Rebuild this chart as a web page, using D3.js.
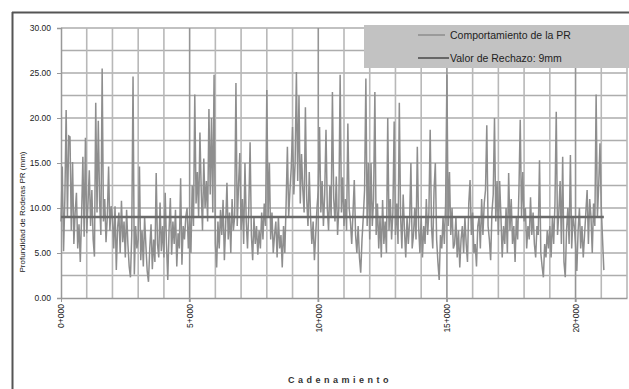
<!DOCTYPE html>
<html><head><meta charset="utf-8">
<script src="https://cdn.jsdelivr.net/npm/d3@7"></script>
<style>body{margin:0;background:#fff}svg{display:block}text{font-family:Arial,"Liberation Sans",sans-serif}</style>
</head><body><svg id="c" width="629" height="389"></svg>
<script>
// chainage step (m) between readings
const step = 50;
// PR values (mm), one per 50 m reading, grouped by km
const prValues = [
  8.5,14.6,5.2,11.0,20.9,9.0,18.0,17.9,7.5,15.1,6.0,9.5,11.7,5.5,8.2,4.0,9.0,15.7,6.8,17.8,
  7.2,10.5,14.2,8.0,12.0,6.5,4.6,21.7,9.5,19.7,10.8,7.0,25.5,8.5,11.0,6.2,9.0,14.6,7.5,10.2,
  8.8,5.5,10.2,3.1,7.8,9.5,5.0,10.8,6.2,8.5,4.5,9.8,6.0,3.5,2.3,7.0,24.6,2.6,8.0,5.5,
  6.5,14.6,4.2,7.5,3.5,9.0,5.8,3.0,1.8,5.5,8.2,3.2,6.5,4.0,13.9,6.0,4.5,10.6,5.2,8.0,
  4.5,11.7,6.0,2.0,7.5,11.1,4.8,8.5,6.0,9.8,3.5,7.2,5.5,13.3,3.7,8.0,6.5,9.0,10.0,5.5,
  9.0,5.0,12.5,8.0,22.6,10.5,14.0,9.0,18.4,12.0,7.5,15.5,10.0,13.0,8.5,21.0,11.5,20.0,9.5,24.8,
  6.0,3.4,8.5,5.5,9.8,7.0,10.9,4.2,8.0,12.8,6.5,9.5,5.0,11.0,7.5,9.0,23.9,8.0,12.5,16.1,
  7.5,11.0,6.0,15.0,8.5,5.5,10.0,17.3,7.0,4.2,9.0,6.0,8.0,4.8,7.5,5.5,9.5,6.5,10.5,8.0,
  23.1,9.0,15.0,6.5,9.5,5.0,7.0,8.5,4.5,9.0,5.5,7.0,3.4,8.0,5.0,10.5,16.8,9.0,12.0,14.5,
  19.0,11.5,15.0,25.1,13.0,22.5,10.5,16.0,12.0,9.5,21.2,11.0,8.0,14.0,9.0,6.0,8.5,4.2,7.0,10.0,
  12.0,19.0,9.5,13.0,8.0,11.5,18.7,10.0,7.5,12.5,9.0,22.9,11.0,8.5,13.5,7.0,10.0,24.8,9.5,13.4,
  8.0,11.0,7.5,19.4,10.0,8.5,6.0,9.5,13.1,7.0,5.0,8.0,4.5,2.8,6.5,9.0,12.0,24.4,8.0,15.0,
  6.5,15.0,8.0,11.0,22.9,7.0,10.5,5.5,9.0,4.5,10.9,6.0,8.5,5.0,20.0,7.5,11.0,6.5,9.5,19.6,
  7.0,10.5,6.0,21.7,9.0,5.5,11.5,7.5,4.5,9.0,6.0,8.5,15.0,5.5,7.0,10.0,6.5,16.8,8.0,5.0,
  9.0,4.5,8.0,6.0,11.0,7.0,9.5,18.7,8.0,5.5,12.0,15.0,6.5,4.0,2.0,7.0,5.5,9.0,6.0,10.5,
  24.8,8.0,14.0,7.0,10.0,5.5,6.0,9.0,4.5,7.5,3.4,6.5,8.0,5.0,9.0,6.0,4.0,10.5,13.1,7.0,
  9.5,5.0,6.0,3.5,8.0,9.0,5.5,11.0,7.0,10.5,12.0,19.2,8.0,6.5,4.2,9.5,11.5,20.0,8.5,13.0,
  7.0,13.0,9.0,4.5,8.0,6.0,10.0,5.0,13.9,7.5,11.0,6.0,8.0,4.0,9.0,6.5,12.0,19.8,9.0,14.0,
  8.5,10.0,5.5,8.0,6.5,11.2,7.0,9.5,6.0,4.5,8.0,7.0,15.3,5.0,3.5,2.3,6.0,4.5,7.5,5.5,
  8.0,4.5,9.0,6.0,10.5,20.7,7.0,9.5,13.0,6.0,15.7,4.0,2.3,7.5,10.0,6.0,15.9,5.5,9.0,8.0,
  6.0,3.0,7.5,10.0,5.5,8.0,4.5,7.0,9.5,12.0,6.0,11.0,9.0,5.0,10.5,8.0,22.6,9.0,12.5,17.2,
  10.0,6.5,3.1
];
const threshold = 9;
const yTicks = [0,5,10,15,20,25,30];
const xTickValues = [0,5000,10000,15000,20000];
const xTickLabels = ["0+000","5+000","10+000","15+000","20+000"];
const legendLabels = ["Comportamiento de la PR","Valor de Rechazo: 9mm"];
const yTitle = "Profundidad de Roderas PR (mm)";
const xTitle = "Cadenamiento";

const data = prValues.map((v,i)=>({x:i*step, y:v}));
const lastX = data[data.length-1].x;

const svg = d3.select("#c");
const x = d3.scaleLinear().domain([0,22000]).range([61,627]);
const y = d3.scaleLinear().domain([0,30]).range([298,28]);

// outer frame
svg.append("line").attr("x1",12).attr("x2",629).attr("y1",12.5).attr("y2",12.5).attr("stroke","#555").attr("stroke-width",2);
svg.append("line").attr("x1",12.5).attr("x2",12.5).attr("y1",12).attr("y2",389).attr("stroke","#555").attr("stroke-width",2);

// horizontal grid every 2.5
const hg = d3.range(2.5,30.01,2.5);
svg.append("g").selectAll("line").data(hg).join("line")
  .attr("x1",x(0)).attr("x2",x(22000)).attr("y1",d=>y(d)).attr("y2",d=>y(d))
  .attr("stroke","#adadad").attr("stroke-width",1.6);
// vertical grid every 1000
const vg = d3.range(1000,22001,1000);
svg.append("g").selectAll("line").data(vg).join("line")
  .attr("x1",d=>x(d)).attr("x2",d=>x(d)).attr("y1",y(30)).attr("y2",d=>d%5000===0?y(0)+4:y(0))
  .attr("stroke",d=>d%5000===0?"#959595":"#b8b8b8").attr("stroke-width",1.6);

// axes
const yAxis = d3.axisLeft(y).tickValues(yTicks).tickFormat(d3.format(".2f")).tickSize(4).tickPadding(6);
const ga = svg.append("g").attr("transform",`translate(${x(0)},0)`).call(yAxis);
ga.select(".domain").attr("stroke","#999").attr("stroke-width",1.5);
ga.selectAll(".tick line").attr("stroke","#999");
ga.selectAll("text").attr("font-size",8.5).attr("fill","#222").attr("font-family","Arial");

const xAxis = d3.axisBottom(x).tickValues(xTickValues).tickFormat((d,i)=>xTickLabels[i]).tickSize(4).tickSizeOuter(0);
const gx = svg.append("g").attr("transform",`translate(0,${y(0)})`).call(xAxis);
gx.select(".domain").attr("stroke","#999").attr("stroke-width",1.5);
gx.selectAll(".tick line").attr("stroke","#999");
gx.selectAll("text").attr("font-size",8.5).attr("fill","#222").attr("font-family","Arial")
  .attr("text-anchor","end").attr("transform","rotate(-90)").attr("x",-6).attr("y",0).attr("dy","0.32em");

// data line
svg.append("path").datum(data)
  .attr("fill","none").attr("stroke","#8e8e8e").attr("stroke-width",1.5)
  .attr("d",d3.line().x(d=>x(d.x)).y(d=>y(d.y)));

// threshold
svg.append("line").attr("x1",x(0)).attr("x2",x(lastX)).attr("y1",y(threshold)).attr("y2",y(threshold))
  .attr("stroke","#6a6a6a").attr("stroke-width",2.5);

// legend
svg.append("rect").attr("x",364).attr("y",25).attr("width",265).attr("height",43).attr("fill","#c2c2c2");
const lg = [{y:35,c:"#8c8c8c",w:1.5,x2:445},{y:58,c:"#666",w:2,x2:449}];
lg.forEach((l,i)=>{
  svg.append("line").attr("x1",418).attr("x2",l.x2).attr("y1",l.y).attr("y2",l.y).attr("stroke",l.c).attr("stroke-width",l.w);
  svg.append("text").attr("x",450).attr("y",l.y+3.8).attr("font-size",10.5).attr("fill","#222").text(legendLabels[i]);
});

// titles
svg.append("text").attr("transform","translate(25,212) rotate(-90)").attr("text-anchor","middle")
  .attr("font-size",8).attr("fill","#222").text(yTitle);
svg.append("text").attr("x",340).attr("y",383).attr("text-anchor","middle")
  .attr("font-size",9).attr("font-weight","bold").attr("letter-spacing",3.5).attr("fill","#333").text(xTitle);
</script></body></html>
